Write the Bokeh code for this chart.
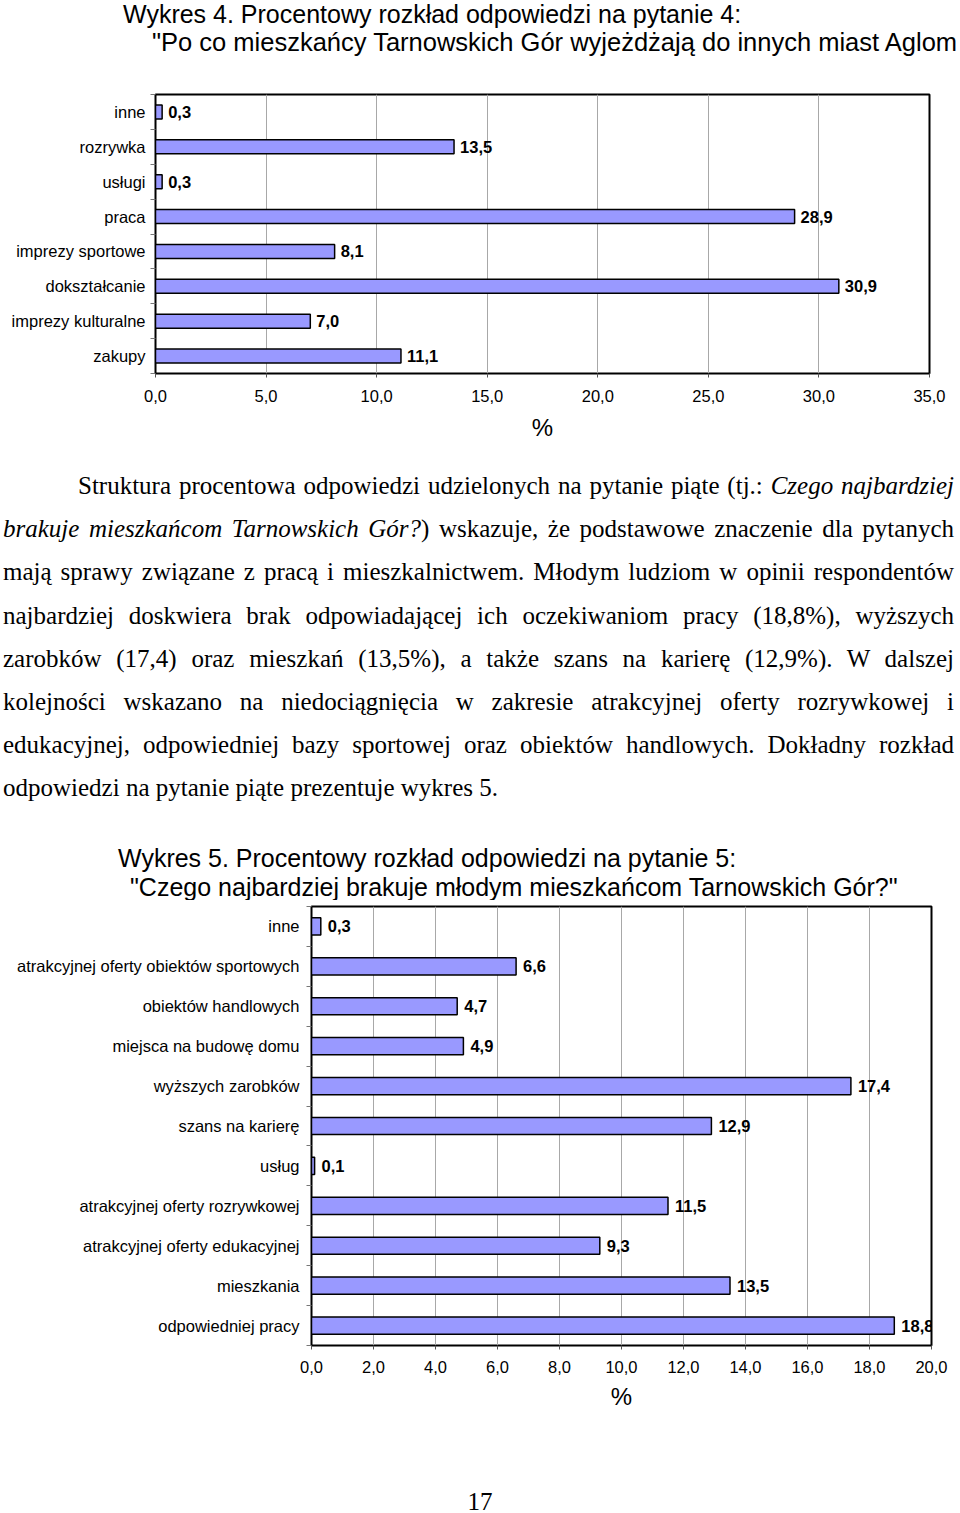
from bokeh.plotting import figure
from bokeh.models import Div, FixedTicker, ColumnDataSource, Range1d
from bokeh.layouts import column, row
from bokeh.embed import file_html
from bokeh.resources import INLINE
from bokeh.core.properties import value

# ---------------- data ----------------
title1_lines = ["Wykres 4. Procentowy rozkład odpowiedzi na pytanie 4:",
                "\"Po co mieszkańcy Tarnowskich Gór wyjeżdżają do innych miast Aglom"]
cats1 = ["inne", "rozrywka", "usługi", "praca", "imprezy sportowe",
         "dokształcanie", "imprezy kulturalne", "zakupy"]
vals1 = [0.3, 13.5, 0.3, 28.9, 8.1, 30.9, 7.0, 11.1]
ticks1 = [0, 5, 10, 15, 20, 25, 30, 35]
tick_labels1 = ["0,0", "5,0", "10,0", "15,0", "20,0", "25,0", "30,0", "35,0"]

title2_lines = ["Wykres 5. Procentowy rozkład odpowiedzi na pytanie 5:",
                "\"Czego najbardziej brakuje młodym mieszkańcom Tarnowskich Gór?\""]
cats2 = ["inne", "atrakcyjnej oferty obiektów sportowych", "obiektów handlowych",
         "miejsca na budowę domu", "wyższych zarobków", "szans na karierę", "usług",
         "atrakcyjnej oferty rozrywkowej", "atrakcyjnej oferty edukacyjnej",
         "mieszkania", "odpowiedniej pracy"]
vals2 = [0.3, 6.6, 4.7, 4.9, 17.4, 12.9, 0.1, 11.5, 9.3, 13.5, 18.8]
ticks2 = [0, 2, 4, 6, 8, 10, 12, 14, 16, 18, 20]
tick_labels2 = ["0,0", "2,0", "4,0", "6,0", "8,0", "10,0", "12,0", "14,0", "16,0", "18,0", "20,0"]

para_lines = [
    "Struktura procentowa odpowiedzi udzielonych na pytanie piąte (tj.: <i>Czego najbardziej</i>",
    "<i>brakuje mieszkańcom Tarnowskich Gór?</i>) wskazuje, że podstawowe znaczenie dla pytanych",
    "mają sprawy związane z pracą i mieszkalnictwem. Młodym ludziom w opinii respondentów",
    "najbardziej doskwiera brak odpowiadającej ich oczekiwaniom pracy (18,8%), wyższych",
    "zarobków (17,4) oraz mieszkań (13,5%), a także szans na karierę (12,9%). W dalszej",
    "kolejności wskazano na niedociągnięcia w zakresie atrakcyjnej oferty rozrywkowej i",
    "edukacyjnej, odpowiedniej bazy sportowej oraz obiektów handlowych. Dokładny rozkład",
    "odpowiedzi na pytanie piąte prezentuje wykres 5.",
]
page_number = "17"

SANS = "Liberation Sans"
SERIF = "Liberation Serif"
BAR = "#9999FF"


def fmt(v):
    return ("%.1f" % v).replace(".", ",")


def bar_chart(cats, vals, ticks, tick_labels, xmax, height, left, right, top, bottom,
              bar_h, tick_standoff, label_standoff, label_offset, cat_standoff):
    n = len(cats)
    ys = [n - 1 - i for i in range(n)]
    src = ColumnDataSource(dict(y=ys, v=vals, t=[fmt(v) for v in vals], c=cats))
    p = figure(width=960, height=height, output_backend="svg", toolbar_location=None,
               x_range=Range1d(0, xmax), y_range=Range1d(-0.5, n - 0.5),
               min_border_left=left, min_border_right=right,
               min_border_top=top, min_border_bottom=bottom)
    p.margin = 0
    p.background_fill_color = "white"
    p.border_fill_color = "white"
    p.outline_line_color = "black"
    p.outline_line_width = 2

    p.hbar(y="y", right="v", left=0, height=bar_h, source=src,
           fill_color=BAR, line_color="black", line_width=1.5)
    p.text(x="v", y="y", text="t", source=src, x_offset=label_offset,
           text_baseline="middle", text_align="left",
           text_font=value(SANS), text_font_style="bold",
           text_font_size="16.5px", text_color="black")

    # x axis
    xt = FixedTicker(ticks=ticks)
    p.xaxis.ticker = xt
    p.xaxis.major_label_overrides = {t: l for t, l in zip(ticks, tick_labels)}
    p.xaxis.major_label_text_font = SANS
    p.xaxis.major_label_text_font_size = "16.5px"
    p.xaxis.major_label_text_color = "black"
    p.xaxis.major_tick_in = 0
    p.xaxis.major_tick_out = 4
    p.xaxis.major_tick_line_color = "#555555"
    p.xaxis.minor_tick_line_color = None
    p.xaxis.major_label_standoff = tick_standoff
    p.xaxis.axis_line_color = "black"
    p.xaxis.axis_label = "%"
    p.xaxis.axis_label_text_font = SANS
    p.xaxis.axis_label_text_font_style = "normal"
    p.xaxis.axis_label_text_font_size = "24px"
    p.xaxis.axis_label_text_color = "black"
    p.xaxis.axis_label_standoff = label_standoff

    # y axis
    yt = FixedTicker(ticks=ys, minor_ticks=[k - 0.5 for k in range(n + 1)])
    p.yaxis.ticker = yt
    p.yaxis.major_label_overrides = {y: c for y, c in zip(ys, cats)}
    p.yaxis.major_label_text_font = SANS
    p.yaxis.major_label_text_font_size = "16.5px"
    p.yaxis.major_label_text_color = "black"
    p.yaxis.major_tick_line_color = None
    p.yaxis.major_tick_in = 0
    p.yaxis.major_tick_out = 0
    p.yaxis.minor_tick_in = 0
    p.yaxis.minor_tick_out = 5
    p.yaxis.minor_tick_line_color = "#777777"
    p.yaxis.major_label_standoff = cat_standoff
    p.yaxis.axis_line_color = "black"

    p.xgrid.ticker = xt
    p.xgrid.grid_line_color = "#a8a8a8"
    p.xgrid.grid_line_width = 1
    p.ygrid.visible = False
    return p


def title_div(lines, lefts, sizes, lhs, height, top_shift):
    inner = "".join(
        '<div style="position:relative; left:%dpx; line-height:%dpx; height:%dpx; '
        'font-size:%s; white-space:nowrap;">%s</div>'
        % (l, lh, lh, s, t) for t, l, s, lh in zip(lines, lefts, sizes, lhs))
    html = ('<div style="width:960px; height:%dpx; overflow:hidden; font-family:\'%s\'; '
            'color:black;"><div style="padding-top:%dpx;">%s</div></div>'
            % (height, SANS, top_shift, inner))
    return Div(text=html, width=960, height=height, margin=0)


t1 = title_div(title1_lines, [123, 152], ["25px", "25.5px"], [28, 28], 70, 0)
p1 = bar_chart(cats1, vals1, ticks1, tick_labels1, 35, 385, 155, 31, 24, 82,
               0.4, 12, 9, 6, 5)

rows = []
for i, line in enumerate(para_lines):
    last = i == len(para_lines) - 1
    style = "line-height:43.2px; height:43.2px; overflow:visible;"
    if not last:
        style += " text-align:justify; text-align-last:justify;"
    if i == 0:
        style += " text-indent:75px;"
    rows.append('<div style="%s">%s</div>' % (style, line))
para_html = ('<div style="width:954px; padding-left:3px; padding-top:9px; font-family:\'%s\'; '
             'font-size:25px; color:black;">%s</div>' % (SERIF, "".join(rows)))
para = Div(text=para_html, width=960, height=375, margin=0)

t2 = title_div(title2_lines, [118, 130], ["25px", "25px"], [29, 29], 70, 14)
p2 = bar_chart(cats2, vals2, ticks2, tick_labels2, 20, 560, 311, 29, 6, 115,
               0.43, 11, 7, 7, 7)

pn = Div(text=('<div style="width:960px; text-align:center; padding-top:29px; '
               'font-family:\'%s\'; font-size:25px; line-height:25px; color:black;">%s</div>'
               % (SERIF, page_number)), width=960, height=53, margin=0)

layout = column(t1, row(p1), para, t2, row(p2), pn, spacing=0)
open("out.html", "w").write(file_html(layout, INLINE))
